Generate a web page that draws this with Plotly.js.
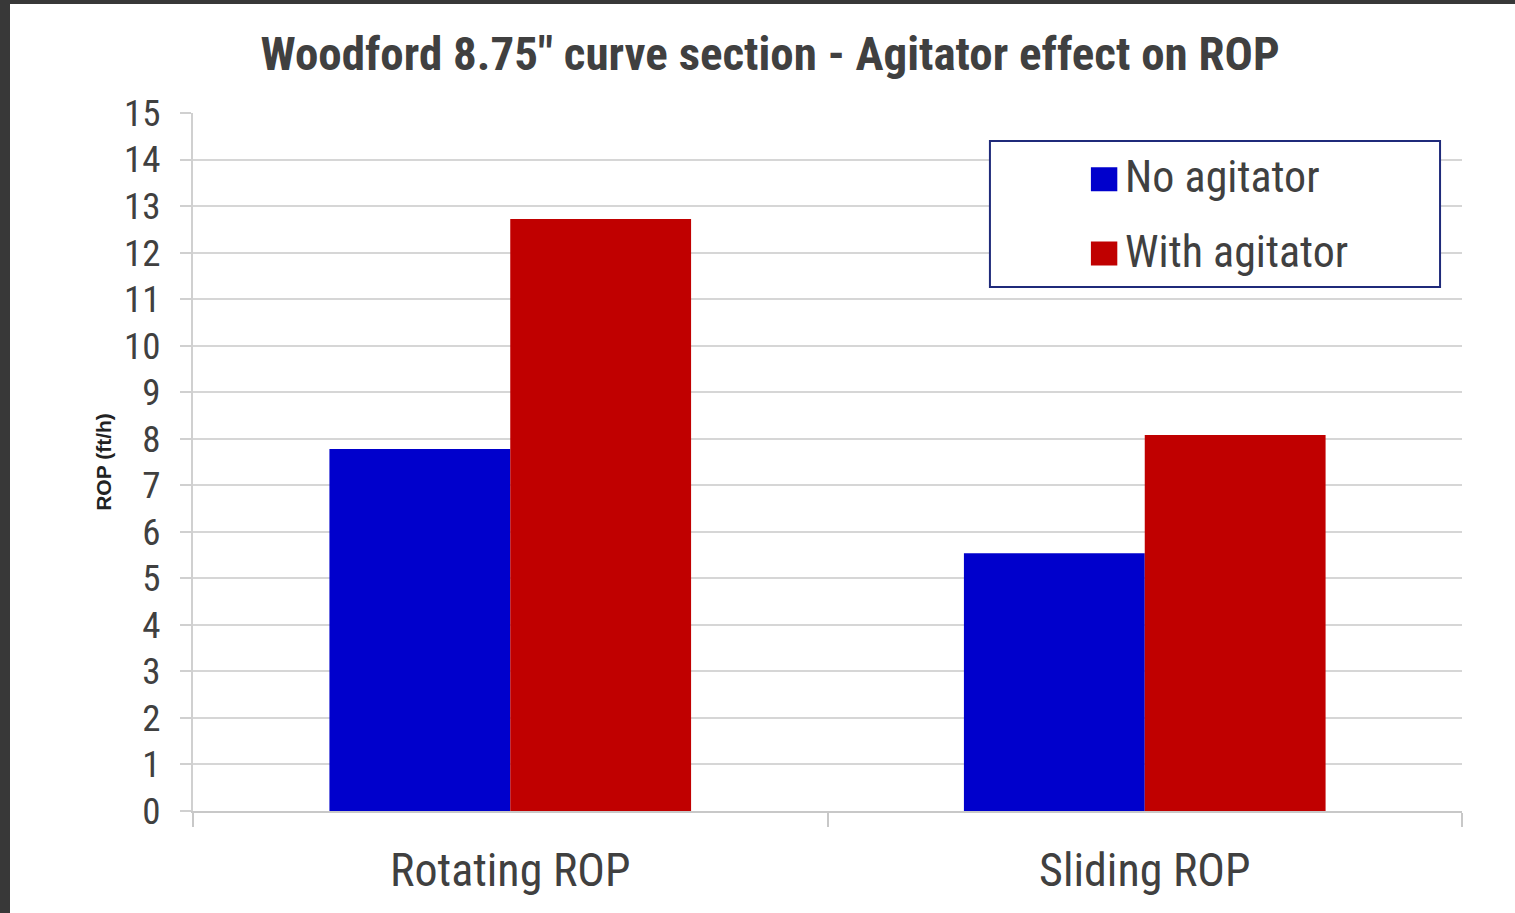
<!DOCTYPE html>
<html><head><meta charset="utf-8">
<script src="https://cdn.plot.ly/plotly-3.0.1.min.js"></script>
<style>
html,body{margin:0;padding:0;background:#383838;width:1515px;height:913px;overflow:hidden;}
#chart{position:absolute;left:10px;top:4px;width:1505px;height:909px;background:#fff;}
.legend .legendpoints path{transform:translate(19px,4px) scale(2.2,2);}
</style></head><body>
<div id="chart"></div>
<script>
const categories = ["Rotating ROP", "Sliding ROP"];
const noAgitator = [7.78, 5.54];
const withAgitator = [12.72, 8.08];
const yTicks = [0,1,2,3,4,5,6,7,8,9,10,11,12,13,14,15];

const FONT = '"Liberation Sans Narrow", "Arial Narrow", "Roboto Condensed", "Liberation Sans", Arial, sans-serif';
const data = [
  {type:'bar', name:'No agitator', x:categories, y:noAgitator, marker:{color:'#0000CC'}, legendgroup:'a'},
  {type:'bar', name:'With agitator', x:categories, y:withAgitator, marker:{color:'#C00000'}, legendgroup:'b'}
];
const layout = {
  width:1505, height:909,
  margin:{l:183, r:53, t:109, b:102},
  paper_bgcolor:'#fff', plot_bgcolor:'#fff',
  barmode:'group', bargap:0.43, bargroupgap:0,
  font:{family:FONT, color:'#404040'},
  title:{text:'<b>Woodford 8.75" curve section - Agitator effect on ROP</b>', x:0.505, xanchor:'center', y:0.945, yanchor:'middle', font:{size:47, family:FONT, color:'#404040'}},
  xaxis:{type:'category', tickson:'boundaries', ticks:'outside', ticklen:14, tickcolor:'#c8c8c8', tickwidth:2,
    showline:true, linecolor:'#c8c8c8', linewidth:2, tickfont:{size:46, family:FONT, color:'#404040'}, showgrid:false, ticklabelstandoff:18},
  yaxis:{range:[0,15], tickvals:yTicks, ticks:'outside', ticklen:11, tickcolor:'#d0d0d0', tickwidth:2,
    showline:true, linecolor:'#d0d0d0', linewidth:2, gridcolor:'#d6d6d6', gridwidth:2, zeroline:false,
    tickfont:{size:37, family:FONT, color:'#404040'}, ticklabelstandoff:12,
    title:{text:'<b>ROP (ft/h)</b>', standoff:7, font:{size:21, family:'"Liberation Sans", Arial, sans-serif', color:'#222'}}},
  legend:{x:0.703, y:0.961, xanchor:'left', yanchor:'top', bgcolor:'rgba(0,0,0,0)', borderwidth:0,
    font:{size:44, family:FONT, color:'#404040'}, traceorder:'grouped', tracegroupgap:14, itemwidth:30},
  shapes:[{type:'rect', xref:'paper', yref:'paper', x0:0.628, x1:0.9827, y0:0.7507, y1:0.96,
    line:{color:'#1F2A7A', width:2}, fillcolor:'#fff', layer:'above'}]
};
Plotly.newPlot('chart', data, layout, {displayModeBar:false, staticPlot:true});
</script></body></html>
